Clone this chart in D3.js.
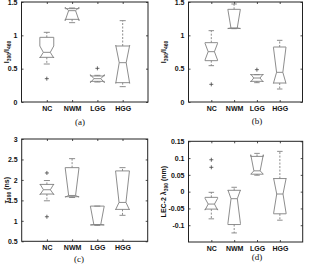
<!DOCTYPE html>
<html>
<head>
<meta charset="utf-8">
<script src="https://cdn.jsdelivr.net/npm/d3@7"></script>
<style>
  body { margin: 0; background: #fff; }
  svg { display: block; }
</style>
</head>
<body>
<script>
var width = 315;
var height = 266;

var categories = ["NC", "NWM", "LGG", "HGG"];

// each box: [whiskerLow, q1, notchLow, median, notchHigh, q3, whiskerHigh]
var statsA = [
  [0.57, 0.67, 0.66, 0.745, 0.84, 0.97, 1.045],
  [1.19, 1.24, 1.22, 1.37, 1.42, 1.40, 1.41],
  [0.30, 0.31, 0.29, 0.35, 0.41, 0.39, 0.40],
  [0.23, 0.29, 0.28, 0.59, 0.85, 0.84, 1.22]
];
var outliersA = [[0.35], [], [0.505], []];

var statsB = [
  [0.545, 0.62, 0.63, 0.755, 0.88, 0.89, 1.07],
  [1.10, 1.105, 1.10, 1.11, 1.39, 1.39, 1.47],
  [0.29, 0.31, 0.30, 0.36, 0.42, 0.41, 0.41],
  [0.195, 0.285, 0.28, 0.445, 0.82, 0.825, 0.925]
];
var outliersB = [[0.265], [], [0.485], []];

var statsC = [
  [1.49, 1.655, 1.64, 1.76, 1.90, 1.89, 1.985],
  [1.57, 1.59, 1.58, 1.62, 2.30, 2.30, 2.52],
  [0.89, 0.90, 0.90, 0.91, 1.36, 1.36, 1.36],
  [1.135, 1.28, 1.27, 1.45, 2.22, 2.22, 2.30]
];
var outliersC = [[2.17, 1.10], [], [], []];

var statsD = [
  [-0.081, -0.052, -0.055, -0.037, -0.02, -0.017, -0.002],
  [-0.123, -0.098, -0.095, -0.021, 0.005, 0.004, 0.013],
  [0.049, 0.052, 0.052, 0.062, 0.11, 0.105, 0.114],
  [-0.085, -0.066, -0.065, -0.007, 0.04, 0.039, 0.12]
];
var outliersD = [[0.095, 0.0725], [], [], []];

var ticksAB = [0, 0.5, 1, 1.5];
var ticksC = [0.5, 1, 1.5, 2, 2.5, 3];
var ticksD = [-0.1, -0.05, 0, 0.05, 0.1, 0.15];

var panels = [
  { stats: statsA, outliers: outliersA, domain: [0, 1.5], ticks: ticksAB,
    box: [21.5, 148, 2, 102], label: ["I", "390", "/I", "460"], labelX: 9,
    caption: "(a)", capX: 80, capY: 125 },
  { stats: statsB, outliers: outliersB, domain: [0, 1.5], ticks: ticksAB,
    box: [188.5, 302.5, 2, 102], label: ["I", "390", "/I", "460"], labelX: 166,
    caption: "(b)", capX: 257, capY: 124 },
  { stats: statsC, outliers: outliersC, domain: [0.5, 3], ticks: ticksC,
    box: [21.7, 147.7, 139, 241.3], label: ["\u03c4", "390", " (ns)"], labelX: 9,
    caption: "(c)", capX: 79, capY: 262 },
  { stats: statsD, outliers: outliersD, domain: [-0.15, 0.15], ticks: ticksD,
    box: [188.5, 302.7, 141.3, 242], label: ["LEC-2 \u03bb", "390", " (nm)"], labelX: 166,
    caption: "(d)", capX: 257, capY: 260 }
];

var svg = d3.select("body")
  .append("svg")
  .attr("width", width)
  .attr("height", height);

var boxColor = "#808080";
var frameColor = "#222";
var font = "'Liberation Sans', Arial, sans-serif";

panels.forEach(function (p) {
  var left = p.box[0], right = p.box[1], top = p.box[2], bottom = p.box[3];
  var x = d3.scaleLinear().domain([0, 5]).range([left, right]);
  var y = d3.scaleLinear().domain(p.domain).range([bottom, top]);
  var g = svg.append("g");

  // axes with inward ticks on all sides
  var yl = g.append("g")
    .attr("transform", "translate(" + left + ",0)")
    .call(d3.axisLeft(y).tickValues(p.ticks).tickSizeInner(-2).tickSizeOuter(0).tickPadding(4)
      .tickFormat(function (d) { return String(+d.toFixed(3)); }));
  var yr = g.append("g")
    .attr("transform", "translate(" + right + ",0)")
    .call(d3.axisRight(y).tickValues(p.ticks).tickSizeInner(-2).tickSizeOuter(0).tickFormat(""));
  var xb = g.append("g")
    .attr("transform", "translate(0," + bottom + ")")
    .call(d3.axisBottom(x).tickValues([1, 2, 3, 4]).tickSizeInner(-2).tickSizeOuter(0).tickPadding(4)
      .tickFormat(function (d) { return categories[d - 1]; }));
  var xt = g.append("g")
    .attr("transform", "translate(0," + top + ")")
    .call(d3.axisTop(x).tickValues([1, 2, 3, 4]).tickSizeInner(-2).tickSizeOuter(0).tickFormat(""));
  [yl, yr, xb, xt].forEach(function (a) {
    a.select(".domain").remove();
    a.selectAll("line").attr("stroke", frameColor).attr("stroke-width", 0.8);
    a.selectAll("text")
      .attr("fill", "#111")
      .style("font-family", font)
      .style("font-size", "7px")
      .style("font-weight", "bold");
  });

  g.append("rect")
    .attr("x", left)
    .attr("y", top)
    .attr("width", right - left)
    .attr("height", bottom - top)
    .attr("fill", "none")
    .attr("stroke", frameColor)
    .attr("stroke-width", 1);

  var hw = 0.275, qw = 0.1375, cw = 0.12;
  var line = d3.line()
    .x(function (d) { return x(d[0]); })
    .y(function (d) { return y(d[1]); });

  p.stats.forEach(function (s, i) {
    var c = i + 1;
    var wlo = s[0], q1 = s[1], nlo = s[2], med = s[3], nhi = s[4], q3 = s[5], whi = s[6];
    // whiskers
    g.append("path")
      .attr("d", line([[c, q3], [c, whi]]) + line([[c, q1], [c, wlo]]))
      .attr("stroke", boxColor)
      .attr("stroke-width", 0.9)
      .attr("stroke-dasharray", "2,1.5")
      .attr("fill", "none");
    g.append("path")
      .attr("d", line([[c - cw, whi], [c + cw, whi]]) + line([[c - cw, wlo], [c + cw, wlo]]))
      .attr("stroke", boxColor)
      .attr("stroke-width", 0.9)
      .attr("fill", "none");
    // notched box
    var pts = [
      [c - hw, q1], [c - hw, nlo], [c - qw, med], [c - hw, nhi], [c - hw, q3],
      [c + hw, q3], [c + hw, nhi], [c + qw, med], [c + hw, nlo], [c + hw, q1], [c - hw, q1]
    ];
    g.append("path")
      .attr("d", line(pts))
      .attr("stroke", boxColor)
      .attr("stroke-width", 0.9)
      .attr("fill", "none");
    g.append("path")
      .attr("d", line([[c - qw, med], [c + qw, med]]))
      .attr("stroke", boxColor)
      .attr("stroke-width", 0.9);
    // outliers
    p.outliers[i].forEach(function (o) {
      var px = x(c), py = y(o);
      g.append("path")
        .attr("d", "M" + (px - 2) + "," + py + "H" + (px + 2) + "M" + px + "," + (py - 2) + "V" + (py + 2))
        .attr("stroke", "#444")
        .attr("stroke-width", 0.8);
    });
  });

  // y label with subscripts
  var cy = (top + bottom) / 2;
  var t = g.append("text")
    .attr("transform", "translate(" + p.labelX + "," + cy + ") rotate(-90)")
    .attr("text-anchor", "middle")
    .attr("fill", "#111")
    .style("font-family", font)
    .style("font-size", "7px")
    .style("font-weight", "bold");
  p.label.forEach(function (s, k) {
    var sub = k % 2 === 1;
    t.append("tspan")
      .attr("dy", sub ? 2 : (k === 0 ? 0 : -2))
      .style("font-size", sub ? "5px" : "7px")
      .text(s);
  });

  g.append("text")
    .attr("x", p.capX)
    .attr("y", p.capY)
    .attr("text-anchor", "middle")
    .attr("fill", "#111")
    .style("font-family", "'Liberation Serif', serif")
    .style("font-size", "9px")
    .text(p.caption);
});
</script>
</body>
</html>
